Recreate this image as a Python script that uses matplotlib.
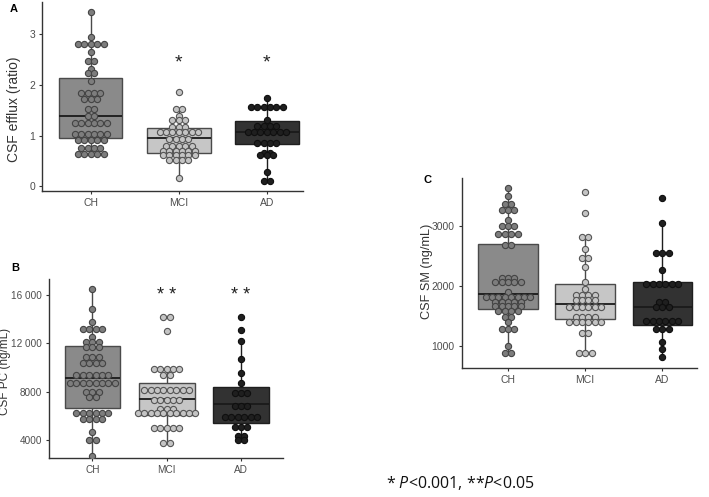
import numpy as np
import matplotlib
matplotlib.use('Agg')
import matplotlib.pyplot as plt

plt.rcParams['font.family'] = ['Liberation Sans', 'DejaVu Sans']
plt.rcParams['mathtext.fontset'] = 'custom'
plt.rcParams['mathtext.rm'] = 'Open Sans'
plt.rcParams['mathtext.it'] = 'Open Sans:italic'

groups = ['CH', 'MCI', 'AD']

# ---------------- Panel A : CSF efflux (ratio) ----------------
a_ch_vals = [3.44, 2.95, 2.80, 2.64, 2.47, 2.32, 2.24, 2.07, 1.84, 1.71, 1.53, 1.39, 1.24, 1.02, 0.91, 0.76, 0.64]
a_ch_counts = [1, 1, 5, 1, 2, 1, 2, 1, 4, 3, 2, 2, 6, 6, 5, 4, 5]
a_mci_vals = [1.86, 1.52, 1.39, 1.30, 1.17, 1.06, 0.94, 0.80, 0.70, 0.61, 0.52, 0.16]
a_mci_counts = [1, 2, 1, 3, 3, 7, 4, 5, 6, 6, 4, 1]
a_ad_vals = [1.73, 1.56, 1.31, 1.19, 1.07, 0.86, 0.66, 0.62, 0.28, 0.11]
a_ad_counts = [1, 6, 1, 4, 7, 4, 2, 3, 1, 2]
a_q1 = [0.95, 0.66, 0.83]
a_med = [1.38, 0.95, 1.07]
a_q3 = [2.13, 1.14, 1.28]
a_lo = [0.64, 0.16, 0.11]
a_hi = [3.44, 1.52, 1.73]
a_yticks = [0, 1, 2, 3]
a_yticklabels = ['0', '1', '2', '3']

# ---------------- Panel B : CSF PC (ng/mL) ----------------
b_ch_vals = [16480, 14830, 13750, 13200, 12510, 12100, 11700, 10860, 10410, 9370, 8710, 7990, 7550, 6230, 5735, 4710, 4025, 2730]
b_ch_counts = [1, 1, 1, 4, 1, 3, 3, 3, 4, 6, 8, 3, 2, 6, 4, 1, 2, 1]
b_mci_vals = [14165, 13030, 9870, 9400, 8160, 7330, 6590, 6230, 5040, 3750]
b_mci_counts = [2, 1, 5, 2, 8, 5, 3, 10, 5, 2]
b_ad_vals = [14165, 13115, 12230, 10720, 9590, 8710, 7930, 6835, 5900, 5120, 4350, 4000]
b_ad_counts = [1, 1, 1, 1, 1, 1, 3, 3, 6, 3, 2, 2]
b_q1 = [6694, 6090, 5454]
b_med = [9124, 7390, 7000]
b_q3 = [11793, 8710, 8380]
b_lo = [2730, 3750, 4000]
b_hi = [16480, 9870, 12230]
b_yticks = [4000, 8000, 12000, 16000]
b_yticklabels = ['4000', '8000', '12 000', '16 000']

# ---------------- Panel C : CSF SM (ng/mL) ----------------
c_ch_vals = [3628, 3500, 3360, 3260, 3100, 3000, 2870, 2680, 2140, 2060, 1900, 1820, 1740, 1660, 1590, 1490, 1394, 1283, 1005, 888]
c_ch_counts = [1, 1, 2, 3, 1, 3, 4, 2, 3, 5, 1, 8, 5, 5, 4, 2, 1, 3, 1, 2]
c_mci_vals = [3561, 3222, 2811, 2611, 2461, 2311, 2061, 1950, 1850, 1760, 1656, 1489, 1400, 1211, 880]
c_mci_counts = [1, 1, 2, 1, 2, 1, 1, 1, 4, 4, 6, 4, 6, 2, 3]
c_ad_vals = [3461, 3045, 2555, 2267, 2033, 1728, 1656, 1417, 1283, 1072, 945, 812]
c_ad_counts = [1, 1, 3, 1, 6, 2, 3, 6, 3, 1, 1, 1]
c_q1 = [1617, 1444, 1350]
c_med = [1861, 1700, 1650]
c_q3 = [2695, 2033, 2072]
c_lo = [888, 880, 812]
c_hi = [3628, 2811, 3045]
c_yticks = [1000, 2000, 3000]
c_yticklabels = ['1000', '2000', '3000']

box_fill = ['#8a8a8a', '#c6c6c6', '#323232']
box_edge = ['#4a4a4a', '#4a4a4a', '#1e1e1e']
dot_fill = ['#7d7d7d', '#c4c4c4', '#1f1f1f']
dot_edge = ['#444444', '#555555', '#0f0f0f']

W, H = 709, 497
fig = plt.figure(figsize=(W / 100, H / 100), dpi=100)


def px_axes(l, r, t, b):
    return fig.add_axes([l / W, 1 - b / H, (r - l) / W, (b - t) / H])


DOT_PX = 6.4


def draw_panel(ax, vals_list, counts_list, q1, med, q3, lo, hi, xlim, ylim,
               yticks, yticklabels, ylabel, width, ax_px_w, label_xy, label_size,
               tick_size=7.5):
    ax.set_xlim(*xlim)
    ax.set_ylim(*ylim)
    stats = []
    for i in range(3):
        stats.append(dict(q1=q1[i], med=med[i], q3=q3[i], whislo=lo[i], whishi=hi[i], fliers=[]))
    bp = ax.bxp(stats, positions=[1, 2, 3], widths=width, patch_artist=True,
                showfliers=False, showcaps=False, manage_ticks=False)
    for i in range(3):
        bp['boxes'][i].set(facecolor=box_fill[i], edgecolor=box_edge[i], linewidth=1.0, zorder=2)
        bp['medians'][i].set(color='#1a1a1a', linewidth=1.3, zorder=2.5)
        for w in bp['whiskers'][2 * i:2 * i + 2]:
            w.set(color=box_edge[i], linewidth=1.0, zorder=1.5)
    d = DOT_PX / (ax_px_w / (xlim[1] - xlim[0]))
    for i, (vals, counts) in enumerate(zip(vals_list, counts_list)):
        xs, ys = [], []
        for v, n in zip(vals, counts):
            for k in range(n):
                xs.append(i + 1 + (k - (n - 1) / 2) * d)
                ys.append(v)
        ax.scatter(xs, ys, s=20, facecolor=dot_fill[i], edgecolor=dot_edge[i],
                   linewidths=0.8, zorder=3)
    ax.set_xticks([1, 2, 3])
    ax.set_xticklabels(groups)
    ax.set_yticks(yticks)
    ax.set_yticklabels(yticklabels)
    ax.tick_params(labelsize=tick_size, colors='#333333', labelcolor='#4d4d4d', length=2.5, width=0.8, pad=2.5)
    for s in ['top', 'right']:
        ax.spines[s].set_visible(False)
    for s in ['left', 'bottom']:
        ax.spines[s].set_color('#333333')
        ax.spines[s].set_linewidth(1.0)
    ax.set_ylabel(ylabel, fontsize=label_size, color='#333333')
    ax.yaxis.set_label_coords(*label_xy)
    ax.yaxis.label.set_va('center')
    ax.patch.set_alpha(0)


# Panel A
axA = px_axes(42, 303, 2, 191)
draw_panel(axA, [a_ch_vals, a_mci_vals, a_ad_vals], [a_ch_counts, a_mci_counts, a_ad_counts],
           a_q1, a_med, a_q3, a_lo, a_hi, (0.447, 3.41), (-0.093, 3.63),
           a_yticks, a_yticklabels, 'CSF efflux (ratio)', 0.72, 261, (-0.107, 0.43), 10)
for x in [2, 3]:
    axA.text(x, 2.42, '*', ha='center', va='center', fontsize=14, color='#222222')

# Panel B
axB = px_axes(49.3, 283.3, 279.3, 458.3)
draw_panel(axB, [b_ch_vals, b_mci_vals, b_ad_vals], [b_ch_counts, b_mci_counts, b_ad_counts],
           b_q1, b_med, b_q3, b_lo, b_hi, (0.42, 3.57), (2512, 17300),
           b_yticks, b_yticklabels, 'CSF PC (ng/mL)', 0.75, 234, (-0.188, 0.484), 8.5,
           tick_size=7.2)
for x in [2, 3]:
    axB.text(x, 15950, '* *', ha='center', va='center', fontsize=13, color='#222222')

# Panel C
axC = px_axes(461.7, 697, 177.7, 368)
draw_panel(axC, [c_ch_vals, c_mci_vals, c_ad_vals], [c_ch_counts, c_mci_counts, c_ad_counts],
           c_q1, c_med, c_q3, c_lo, c_hi, (0.40, 3.45), (633, 3805),
           c_yticks, c_yticklabels, 'CSF SM (ng/mL)', 0.77, 235.3, (-0.147, 0.506), 9.2)

# Panel letters
fig.text(10 / W, 1 - 9 / H, 'A', fontsize=8, fontweight='bold', va='center', ha='left')
fig.text(11 / W, 1 - 268 / H, 'B', fontsize=8, fontweight='bold', va='center', ha='left')
fig.text(423 / W, 1 - 180 / H, 'C', fontsize=8, fontweight='bold', va='center', ha='left')

# Footnote
fig.text(386 / W, 1 - 483 / H, r'* $P$<0.001, **$P$<0.05', fontsize=11.5,
         family='Open Sans', va='center', ha='left', color='#111111')

fig.savefig('out.png', dpi=100)
